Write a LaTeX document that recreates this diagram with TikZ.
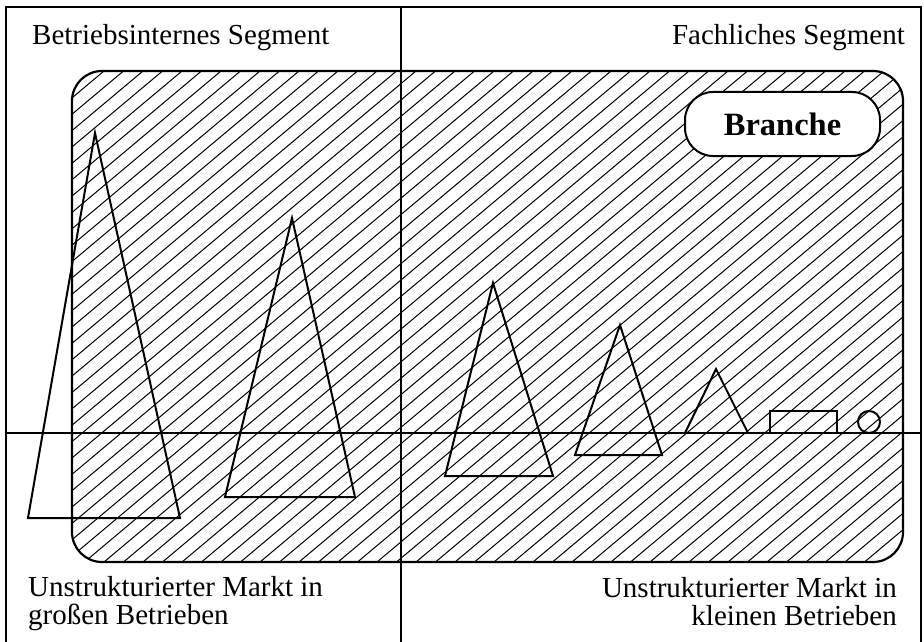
\documentclass[tikz,border=0pt]{standalone}
\usepackage{fontspec}
\setmainfont{Liberation Serif}
\usetikzlibrary{positioning}
\tikzset{
  frame/.style={line width=1.8pt, draw=black},
  field/.style={line width=2.2pt, draw=black, rounded corners=30pt},
  hatch/.style={line width=1pt, draw=black},
  seg/.style={inner sep=0pt, font=\fontsize{29}{28}\selectfont},
  market/.style={line width=2pt, draw=black, line join=miter},
  label/.style={draw=black, line width=2pt, fill=white, rounded corners=28pt, minimum width=195pt, minimum height=64pt, font=\fontsize{32.5}{34}\selectfont\bfseries}
}
\begin{document}
\begin{tikzpicture}[x=1pt, y=-1pt]
  \useasboundingbox (0,0) rectangle (924,642);
  % hatched field
  \begin{scope}
    \clip[rounded corners=30pt] (72,71) rectangle (903,562);
    \foreach \i in {-520,-500.5,...,910}
      \draw[hatch] (\i,562) -- (\i+585,71);
  \end{scope}
  \draw[field] (72,71) rectangle (903,562);

  % frame and axes
  \draw[frame] (6,642) -- (6,7) -- (921,7) -- (921,642);
  \draw[frame] (401,7) -- (401,642);
  \draw[frame] (6,433) -- (921,433);

  % segments
  \node[seg, anchor=base west] (bis) at (32,45) {Betriebsinternes Segment};
  \node[seg, anchor=base east] (fs) at (905,45) {Fachliches Segment};
  \node[seg, anchor=base west, align=left] (gross) at (28,624) {Unstrukturierter Markt in\\großen Betrieben};
  \node[seg, anchor=base east, align=right] (klein) at (897,625) {Unstrukturierter Markt in\\kleinen Betrieben};

  \node[label] (branche) at (782.5,124) {Branche};

  % markets
  \draw[market] (95,133) -- (180,518) -- (28,518) -- cycle;
  \draw[market] (292,218) -- (355,497) -- (225,497) -- cycle;
  \draw[market] (493,283) -- (553,476) -- (445,476) -- cycle;
  \draw[market] (620,325) -- (662,455) -- (575,455) -- cycle;
  \draw[market] (685,433) -- (716,369) -- (748,433);
  \draw[market] (770,433) -- (770,411) -- (837,411) -- (837,433);
  \draw[market] (869,422) circle (11);
\end{tikzpicture}
\end{document}
